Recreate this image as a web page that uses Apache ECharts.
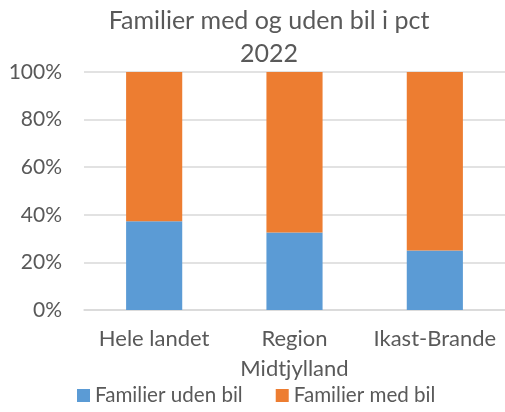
<!DOCTYPE html>
<html><head><meta charset="utf-8">
<script src="https://cdn.jsdelivr.net/npm/echarts@6/dist/echarts.min.js"></script>
<style>html,body{margin:0;padding:0;background:#fff}#c{width:505px;height:412px}</style>
</head><body><div id="c"></div>
<script>
const categories = ['Hele landet', 'Region\nMidtjylland', 'Ikast-Brande'];
const utenBil = [37.3, 32.6, 25.0];
const medBil = [62.7, 67.4, 75.0];
const seriesNames = ['Familier uden bil', 'Familier med bil'];
const yTicks = [0, 20, 40, 60, 80, 100];

const FONT = 'Lato';
const chart = echarts.init(document.getElementById('c'));
chart.setOption({
  animation: false,
  title: {
    text: 'Familier med og uden bil i pct\n2022',
    left: 264, top: -1, textAlign: 'center',
    textStyle: { fontFamily: FONT, fontSize: 25, fontWeight: 'normal', color: '#595959', lineHeight: 33 }
  },
  legend: {
    bottom: 1, left: 72, itemWidth: 13, itemHeight: 13, itemGap: 33,
    icon: 'rect',
    textStyle: { fontFamily: FONT, fontSize: 20.6, color: '#595959' },
    data: seriesNames
  },
  grid: { left: 84, right: -2, top: 72, bottom: 102 },
  xAxis: {
    type: 'category', data: categories,
    axisLine: { lineStyle: { color: '#d9d9d9', width: 1.5 } },
    axisTick: { show: false },
    axisLabel: { fontFamily: FONT, fontSize: 22, color: '#595959', lineHeight: 30, margin: 14, interval: 0 }
  },
  yAxis: {
    type: 'value', min: 0, max: 100, interval: 20,
    axisLine: { show: false }, axisTick: { show: false },
    splitLine: { lineStyle: { color: '#d9d9d9', width: 1.5 } },
    axisLabel: { fontFamily: FONT, fontSize: 21, color: '#595959', margin: 22, formatter: v => v + '%' }
  },
  series: [
    { name: seriesNames[0], type: 'bar', stack: 's', data: utenBil, barWidth: '40%', itemStyle: { color: '#5b9bd5' } },
    { name: seriesNames[1], type: 'bar', stack: 's', data: medBil, barWidth: '40%', itemStyle: { color: '#ed7d31' } }
  ]
});
</script></body></html>
